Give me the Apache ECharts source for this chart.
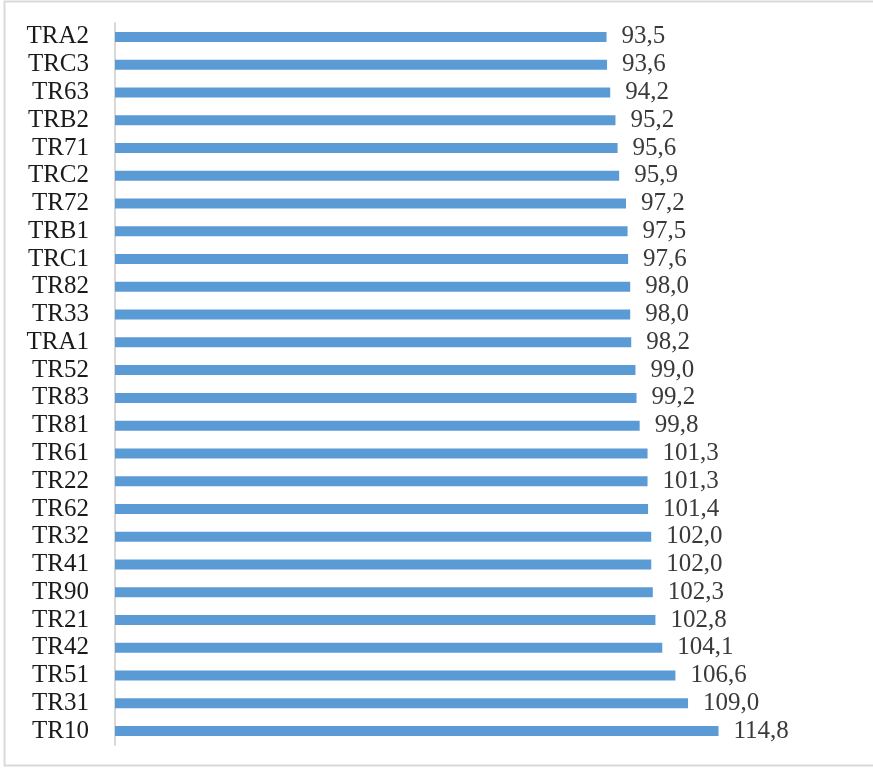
<!DOCTYPE html>
<html>
<head>
<meta charset="utf-8">
<script src="https://cdn.jsdelivr.net/npm/echarts@6/dist/echarts.min.js"></script>
<style>
  html, body { margin: 0; padding: 0; background: #fff; }
  #chart { width: 873px; height: 768px; }
</style>
</head>
<body>
<div id="chart"></div>
<script>
const categories = ['TRA2', 'TRC3', 'TR63', 'TRB2', 'TR71', 'TRC2', 'TR72', 'TRB1', 'TRC1', 'TR82',
  'TR33', 'TRA1', 'TR52', 'TR83', 'TR81', 'TR61', 'TR22', 'TR62', 'TR32', 'TR41',
  'TR90', 'TR21', 'TR42', 'TR51', 'TR31', 'TR10']
const values = [93.5, 93.6, 94.2, 95.2, 95.6, 95.9, 97.2, 97.5, 97.6, 98.0,
  98.0, 98.2, 99.0, 99.2, 99.8, 101.3, 101.3, 101.4, 102.0, 102.0,
  102.3, 102.8, 104.1, 106.6, 109.0, 114.8]

const chart = echarts.init(document.getElementById('chart'))

chart.setOption({
  backgroundColor: '#fff',
  animation: false,
  graphic: [{
    type: 'rect',
    shape: { x: 4.5, y: 1.5, width: 900, height: 764 },
    style: { fill: 'none', stroke: '#d9d9d9', lineWidth: 2 },
    silent: true,
  }],
  grid: { left: 115, right: 22, top: 23, bottom: 23 },
  xAxis: {
    type: 'value',
    min: 0,
    max: 140,
    show: false,
  },
  yAxis: {
    type: 'category',
    data: categories,
    inverse: true,
    axisLine: { lineStyle: { color: '#d9d9d9', width: 2 } },
    axisTick: { show: false },
    axisLabel: {
      interval: 0,
      color: '#1a1a1a',
      fontFamily: 'Liberation Serif',
      fontSize: 25,
      margin: 26,
    },
  },
  series: [{
    type: 'bar',
    data: values,
    barWidth: 10,
    itemStyle: { color: '#5b9bd5' },
    label: {
      show: true,
      position: 'right',
      distance: 15,
      color: '#3a3a3a',
      fontFamily: 'Liberation Serif',
      fontSize: 25,
      formatter: (p) => p.value.toFixed(1).replace('.', ','),
    },
  }],
})
</script>
</body>
</html>
